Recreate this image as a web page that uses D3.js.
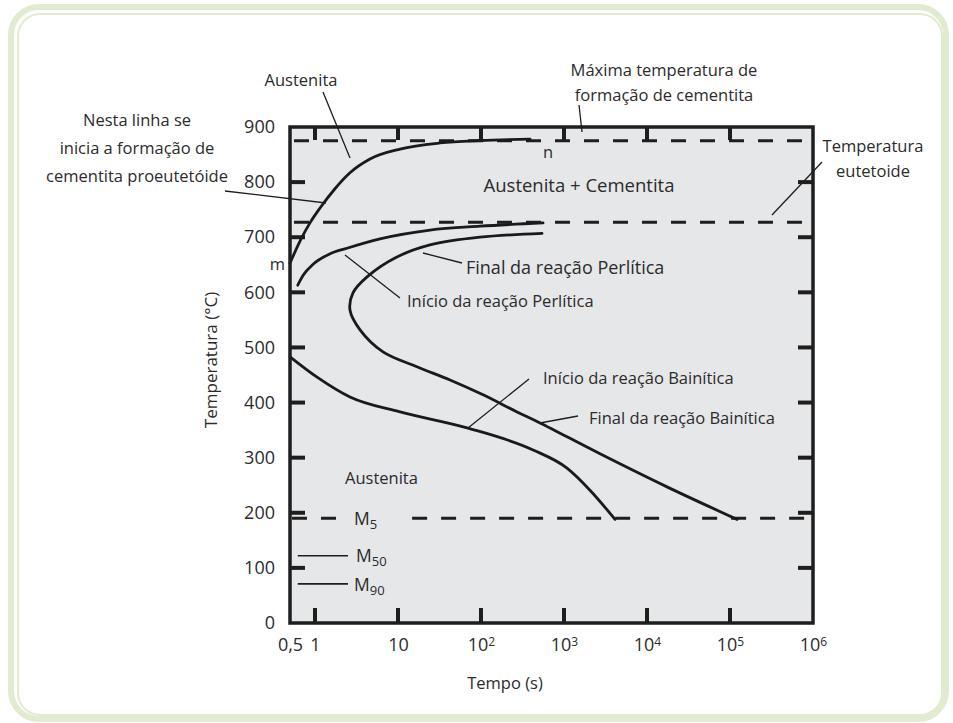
<!DOCTYPE html>
<html>
<head>
<meta charset="utf-8">
<script src="https://cdn.jsdelivr.net/npm/d3@7"></script>
<style>
  html, body { margin: 0; padding: 0; background: #ffffff; }
  svg { display: block; }
  text { font-family: "Open Sans", "Noto Sans", sans-serif; fill: #2b2b2b; }
</style>
</head>
<body>
<svg id="chart" width="953" height="723"></svg>
<script>
// ---------------- DATA ----------------
const yTickValues = [0, 100, 200, 300, 400, 500, 600, 700, 800, 900];
const xTickValues = [0.5, 1, 10, 100, 1000, 10000, 100000, 1000000];
const xTickBase   = ["0,5", "1", "10", "10", "10", "10", "10", "10"];
const xTickExp    = ["", "", "", "2", "3", "4", "5", "6"];
const innerTickX  = [1, 10, 100, 1000, 10000, 100000];          // ticks along top / bottom
const innerTickY  = [100, 200, 300, 400, 500, 600, 700, 800];   // ticks along left / right

// curves: [time (s), temperature (°C)]
const curveProeutectoid = [[0.5, 653], [0.66, 693], [0.87, 726], [1.15, 753], [1.74, 788], [2.64, 817], [4.6, 842], [10.6, 860], [32.1, 871], [97, 875.5], [390, 878]];
const curvePerliteStart = [[0.62, 613], [0.72, 631], [0.95, 651], [1.52, 670], [2.43, 680], [6.07, 697], [24.3, 713], [97, 720], [559, 726]];
const curveFinish       = [[543, 707], [97, 700], [24.3, 686], [9.7, 664], [4.24, 628], [2.87, 599], [2.64, 568], [3.49, 532], [6.6, 492], [16.9, 465], [42.4, 441], [106, 414], [272, 383], [514, 363], [2717, 307], [17400, 247], [121600, 188]];
const curveBainiteStart = [[0.5, 483], [1.06, 446], [2.64, 410], [10.6, 383], [67.9, 354], [424, 314], [1087, 281], [2056, 241], [4120, 188]];

// horizontal reference temperatures
const tempMaxCementite = 875;
const tempEutectoid = 727;
const tempM5 = 190;
const m5Segments = [[0.5, 1.84], [14, 1000000]];
const tempM50 = 122;
const tempM90 = 71;
const mLineRange = [0.62, 2.5];

// ---------------- LAYOUT ----------------
const svg = d3.select("#chart");
const X0 = 290, X1 = 813, Y0 = 623, Y1 = 127;
const x = d3.scaleLog().domain([0.5, 1000000]).range([X0, X1]);
const y = d3.scaleLinear().domain([0, 900]).range([Y0, Y1]);
const FS = 16.5;

// decorative outer frame
svg.append("rect").attr("x", 11).attr("y", 7).attr("width", 935).attr("height", 712)
  .attr("rx", 28).attr("fill", "none").attr("stroke", "#e1ebcf").attr("stroke-width", 6);
svg.append("rect").attr("x", 18).attr("y", 14).attr("width", 924).attr("height", 701)
  .attr("rx", 22).attr("fill", "#ffffff").attr("stroke", "#e1ebcf").attr("stroke-width", 2);

// plot background
svg.append("rect").attr("x", X0).attr("y", Y1).attr("width", X1 - X0).attr("height", Y0 - Y1)
  .attr("fill", "#e6e7e9");

// axes via d3 axis (labels only; domain drawn as frame)
const yAxis = svg.append("g").attr("transform", `translate(${X0},0)`)
  .call(d3.axisLeft(y).tickValues(yTickValues).tickSize(0).tickPadding(15).tickFormat(d3.format("d")));
yAxis.select(".domain").remove();
yAxis.selectAll("text").attr("font-size", 18).attr("font-family", "Open Sans").attr("fill", "#2b2b2b");

const xAxis = svg.append("g").attr("transform", `translate(0,${Y0})`)
  .call(d3.axisBottom(x).tickValues(xTickValues).tickSize(0).tickPadding(12).tickFormat(() => ""));
xAxis.select(".domain").remove();
xAxis.selectAll(".tick text").each(function(d, i) {
  const t = d3.select(this).attr("font-size", 18).attr("font-family", "Open Sans").attr("fill", "#2b2b2b").attr("dy", "0.9em");
  t.append("tspan").text(xTickBase[i]);
  if (xTickExp[i]) t.append("tspan").attr("dy", "-0.45em").attr("font-size", 12).text(xTickExp[i]);
});

// inner ticks
const tickG = svg.append("g").attr("stroke", "#1e1e1e").attr("stroke-width", 4);
innerTickX.forEach(v => {
  tickG.append("line").attr("x1", x(v)).attr("x2", x(v)).attr("y1", Y0).attr("y2", Y0 - 15);
  tickG.append("line").attr("x1", x(v)).attr("x2", x(v)).attr("y1", Y1).attr("y2", Y1 + 13);
});
innerTickY.forEach(v => {
  tickG.append("line").attr("x1", X0).attr("x2", X0 + 15).attr("y1", y(v)).attr("y2", y(v));
  tickG.append("line").attr("x1", X1).attr("x2", X1 - 15).attr("y1", y(v)).attr("y2", y(v));
});

// dashed horizontal lines
const dashG = svg.append("g").attr("stroke", "#1e1e1e").attr("stroke-width", 3).attr("stroke-dasharray", "15,14");
[tempMaxCementite, tempEutectoid].forEach(T => {
  dashG.append("line").attr("x1", X0 + 4).attr("x2", X1).attr("y1", y(T)).attr("y2", y(T));
});
m5Segments.forEach(s => {
  dashG.append("line").attr("x1", x(s[0]) + 2).attr("x2", x(s[1])).attr("y1", y(tempM5)).attr("y2", y(tempM5));
});

// M50, M90 short solid lines
[tempM50, tempM90].forEach(T => {
  svg.append("line").attr("x1", x(mLineRange[0])).attr("x2", x(mLineRange[1]))
    .attr("y1", y(T)).attr("y2", y(T)).attr("stroke", "#1e1e1e").attr("stroke-width", 1.6);
});

// curves
const lineMono = d3.line().x(d => x(d[0])).y(d => y(d[1])).curve(d3.curveMonotoneX);
const lineC = d3.line().x(d => x(d[0])).y(d => y(d[1])).curve(d3.curveCatmullRom.alpha(0.5));
[[curveProeutectoid, lineMono], [curvePerliteStart, lineMono], [curveFinish, lineC], [curveBainiteStart, lineMono]].forEach(([c, gen]) => {
  svg.append("path").attr("d", gen(c)).attr("fill", "none")
    .attr("stroke", "#1a1a1a").attr("stroke-width", 2.8).attr("stroke-linecap", "round");
});

// frame
svg.append("rect").attr("x", X0).attr("y", Y1).attr("width", X1 - X0).attr("height", Y0 - Y1)
  .attr("fill", "none").attr("stroke", "#1e1e1e").attr("stroke-width", 3.5);

// leader lines (annotation pointers)
const leaders = [
  [[323, 92], [350, 158]],
  [[225, 191], [326, 203]],
  [[579, 105], [582, 132]],
  [[822, 162], [772, 215]],
  [[423, 253], [462, 263]],
  [[345, 255], [400, 298]],
  [[529, 379], [468, 428]],
  [[578, 416], [540, 423]]
];
leaders.forEach(l => {
  svg.append("line").attr("x1", l[0][0]).attr("y1", l[0][1]).attr("x2", l[1][0]).attr("y2", l[1][1])
    .attr("stroke", "#1e1e1e").attr("stroke-width", 1.3);
});

// text annotations
function label(txt, px, py, anchor, size) {
  return svg.append("text").attr("x", px).attr("y", py).attr("text-anchor", anchor || "start")
    .attr("font-size", size || FS).text(txt);
}
label("Austenita", 301, 86, "middle");
label("Nesta linha se", 137, 126, "middle");
label("inicia a formação de", 137, 154, "middle");
label("cementita proeutetóide", 137, 182, "middle");
label("Máxima temperatura de", 664, 76, "middle");
label("formação de cementita", 664, 101, "middle");
label("Temperatura", 873, 152, "middle");
label("eutetoide", 873, 177, "middle");
label("n", 548, 158, "middle");
label("m", 285, 270, "end");
label("Austenita + Cementita", 579, 192, "middle", 18.5);
label("Final da reação Perlítica", 466, 274, "start", 18);
label("Início da reação Perlítica", 407, 307, "start");
label("Início da reação Bainítica", 543, 384, "start");
label("Final da reação Bainítica", 589, 424, "start");
label("Austenita", 345, 484, "start");

function mLabel(sub, px, py) {
  const t = svg.append("text").attr("x", px).attr("y", py).attr("font-size", FS + 1);
  t.append("tspan").text("M");
  t.append("tspan").attr("dy", "0.3em").attr("font-size", 13).text(sub);
}
mLabel("5", 354, 525);
mLabel("50", 356, 562);
mLabel("90", 354, 591);

// axis titles
svg.append("text").attr("x", 505).attr("y", 689).attr("text-anchor", "middle").attr("font-size", FS).text("Tempo (s)");
svg.append("text").attr("transform", "translate(217,360) rotate(-90)").attr("text-anchor", "middle")
  .attr("font-size", 17).text("Temperatura (°C)");
</script>
</body>
</html>
